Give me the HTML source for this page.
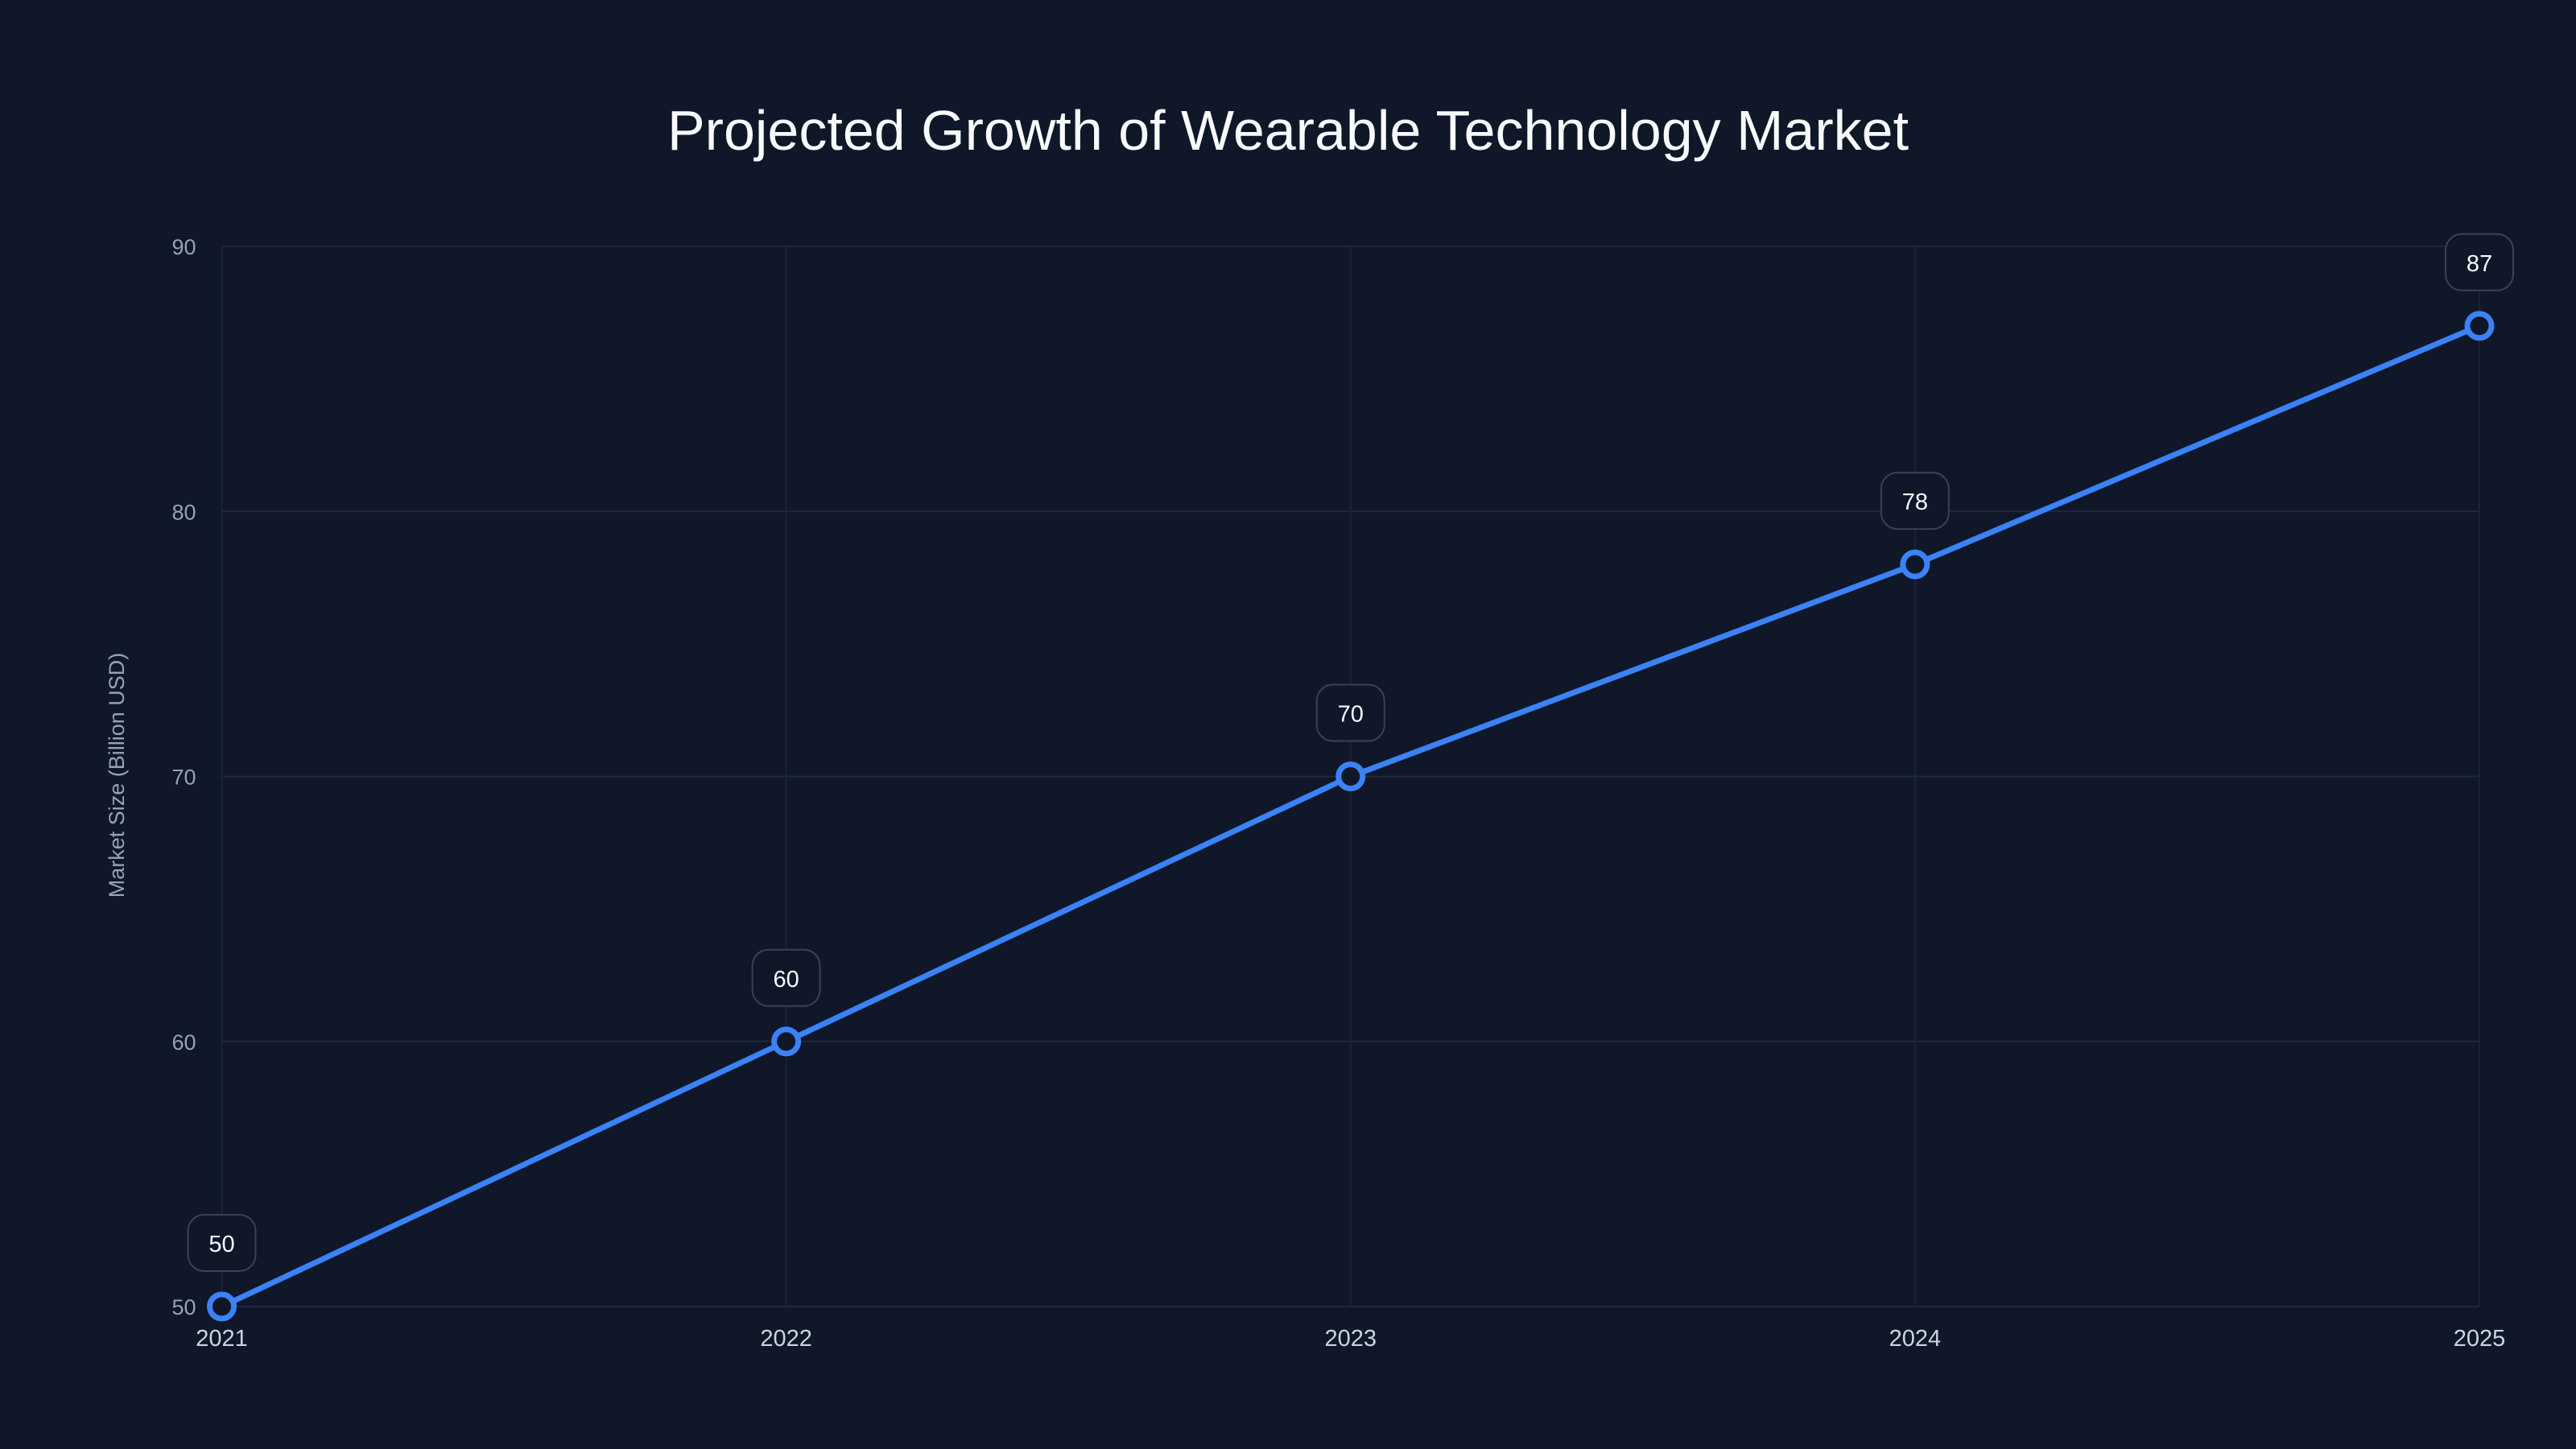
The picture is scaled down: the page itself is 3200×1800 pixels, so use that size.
<!DOCTYPE html>
<html><head><meta charset="utf-8"><style>
html,body{margin:0;padding:0;background:#0f1729;}
svg{display:block;font-family:"Liberation Sans",sans-serif;}
</style></head><body>
<svg id="chart" width="3200" height="1800" viewBox="0 0 3200 1800">
<rect width="3200" height="1800" fill="#0f1729"/>
<text x="1600" y="186" text-anchor="middle" font-size="70" fill="#f8fafc">Projected Growth of Wearable Technology Market</text>
<text transform="translate(154,963) rotate(-90)" text-anchor="middle" font-size="27" fill="#94a3b8">Market Size (Billion USD)</text>
<g id="grid"></g><g id="ticks"></g><g id="series"></g>
</svg>
<script>
const years = ["2021","2022","2023","2024","2025"];
const values = [50,60,70,78,87];
const yTicks = [50,60,70,80,90];
const L=275.5,R=3080,T=306,B=1623,yMin=50,yMax=90;
const ns="http://www.w3.org/2000/svg";
const xs=i=>L+(R-L)*i/(years.length-1);
const ys=v=>B-(v-yMin)/(yMax-yMin)*(B-T);
function mk(tag,attrs,parent,txt){const e=document.createElementNS(ns,tag);for(const k in attrs)e.setAttribute(k,attrs[k]);if(txt!==undefined)e.textContent=txt;parent.appendChild(e);return e;}
const grid=document.getElementById('grid'),ticks=document.getElementById('ticks'),series=document.getElementById('series');
yTicks.forEach(v=>{
 const g=mk('line',{x1:L,x2:R,y1:ys(v),y2:ys(v),stroke:'#1f2a3c','stroke-width':2},grid);
 
 
 const t=mk('text',{x:L-32,y:ys(v)+10,'text-anchor':'end','font-size':27,fill:'#94a3b8'},ticks,v);
 
 
});
years.forEach((y,i)=>{
 const g=mk('line',{x1:xs(i),x2:xs(i),y1:T,y2:B,stroke:'#1a2436','stroke-width':2},grid);
 
 
 const t=mk('text',{x:xs(i),y:B+49,'text-anchor':'middle','font-size':29,fill:'#cbd5e1'},ticks,y);
 
 
});
const pts=values.map((v,i)=>xs(i)+','+ys(v)).join(' ');
const line=mk('polyline',{points:pts,fill:'none',stroke:'#3b82f6','stroke-width':7,'stroke-linejoin':'round'},series);


values.forEach((v,i)=>{
 const c=mk('circle',{cx:xs(i),cy:ys(v),r:15,fill:'#0f1729',stroke:'#3b82f6','stroke-width':7},series);
 
 
 const b=mk('rect',{x:xs(i)-42,y:ys(v)-114,width:84,height:70,rx:20,fill:'#0f1729',stroke:'#3a4252','stroke-width':2},series);
 
 
 const t=mk('text',{x:xs(i),y:ys(v)-68,'text-anchor':'middle','font-size':29,fill:'#f8fafc'},series,v);
 
 
});
</script>
</body></html>
